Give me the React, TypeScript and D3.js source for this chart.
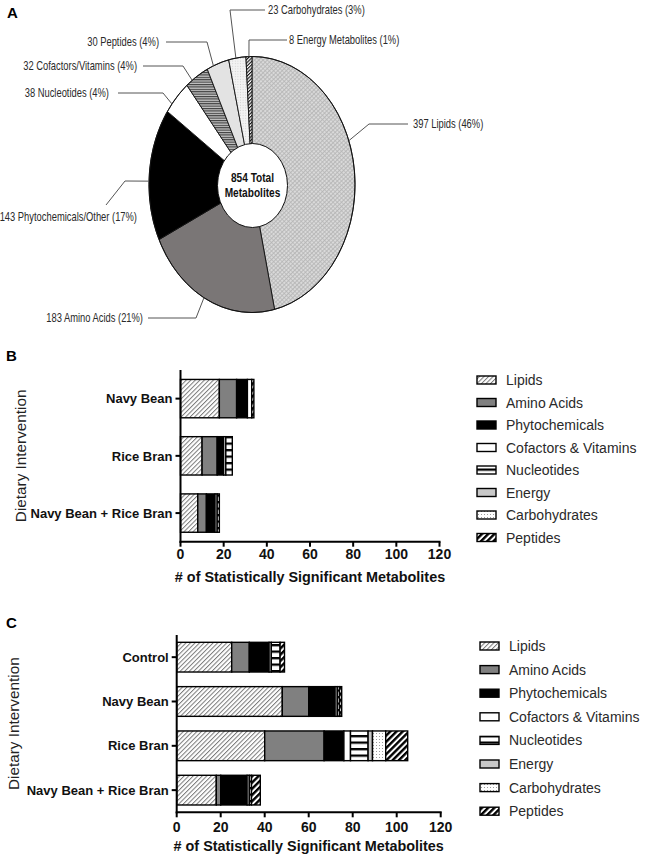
import React from "react";
import * as d3 from "d3";

// ---------- Panel A data ----------
const pieNames = ["Lipids", "Amino Acids", "Phytochemicals/Other", "Nucleotides", "Cofactors/Vitamins", "Peptides", "Carbohydrates", "Energy Metabolites"];
const pieCounts = [397, 183, 143, 38, 32, 30, 23, 8];
const piePercents = [46, 21, 17, 4, 4, 4, 3, 1];
const pieTotalLines = ["854 Total", "Metabolites"];

// ---------- Panel B / C data ----------
const classKeys = ["Lipids", "Amino Acids", "Phytochemicals", "Cofactors & Vitamins", "Nucleotides", "Energy", "Carbohydrates", "Peptides"];

const groupsB = ["Navy Bean", "Rice Bran", "Navy Bean + Rice Bran"];
const lipidsB = [18, 10, 8];
const aminoB = [8, 7, 4];
const phytoB = [5, 3, 4];
const cofactorsB = [2, 1, 1];
const nucleotidesB = [0, 3, 1];
const energyB = [0, 0, 0];
const carbsB = [0, 0, 0];
const peptidesB = [1, 0, 0];

const groupsC = ["Control", "Navy Bean", "Rice Bran", "Navy Bean + Rice Bran"];
const lipidsC = [25, 48, 40, 18];
const aminoC = [8, 12, 27, 2];
const phytoC = [9, 12, 9, 12];
const cofactorsC = [1, 1, 3, 1];
const nucleotidesC = [4, 1, 8, 1];
const energyC = [0, 0, 2, 0];
const carbsC = [0, 0, 6, 0];
const peptidesC = [2, 1, 10, 4];

const xTicks = [0, 20, 40, 60, 80, 100, 120];
const xTitle = "# of Statistically Significant Metabolites";
const yTitle = "Dietary Intervention";

// ---------- styles ----------
const classFills = ["url(#bLip)", "#808080", "#000", "#fff", "url(#bNuc)", "#c8c8c8", "url(#bCarb)", "url(#bPep)"];
const pieFills = ["url(#pLip)", "#7a7676", "#000", "#fff", "url(#pCof)", "#e3e3e3", "url(#pCarb)", "url(#pEn)"];

const SANS = "'Liberation Sans', Arial, Helvetica, sans-serif";
const NARROW_X = 0.75; // horizontal condensing for the pie's narrow typeface

// label layout for the pie (angle in degrees of the anchor on the rim, elbow, text position)
const pieLabelLayout = [
  { deg: 70, elbow: [369, 124], start: [408, 124], tx: 413, ty: 124, anchor: "start" },
  { deg: 207.8, elbow: [196, 318], start: [148, 318], tx: 143, ty: 318, anchor: "end" },
  { deg: 271.5, elbow: [125, 181], start: [106, 205], tx: 137, ty: 217, anchor: "end" },
  { deg: 309, elbow: [163, 93], start: [118, 93], tx: 109, ty: 93, anchor: "end" },
  { deg: 324.5, elbow: [183, 66], start: [143, 66], tx: 137, ty: 66, anchor: "end" },
  { deg: 338, elbow: [207, 42], start: [166, 42], tx: 159, ty: 42, anchor: "end" },
  { deg: 351, elbow: [230, 10], start: [265, 10], tx: 268, ty: 10, anchor: "start" },
  { deg: 358.3, elbow: [249, 40], start: [287, 40], tx: 289, ty: 40, anchor: "start" },
];

function Patterns() {
  return (
    <defs>
      <pattern id="bLip" width="3.2" height="3.2" patternUnits="userSpaceOnUse" patternTransform="rotate(45)">
        <rect width="3.2" height="3.2" fill="#fff" />
        <line x1="0.5" y1="0" x2="0.5" y2="3.2" stroke="#7a7a7a" strokeWidth="1" />
      </pattern>
      <pattern id="bNuc" width="6" height="6.5" patternUnits="userSpaceOnUse" y="0.5">
        <rect width="6" height="6.5" fill="#fff" />
        <rect y="0" width="6" height="2.3" fill="#000" />
      </pattern>
      <pattern id="bCarb" width="3" height="3" patternUnits="userSpaceOnUse">
        <rect width="3" height="3" fill="#fff" />
        <circle cx="1.5" cy="1.5" r="0.55" fill="#8a8a8a" />
      </pattern>
      <pattern id="bPep" width="4.4" height="4.4" patternUnits="userSpaceOnUse" patternTransform="rotate(45)">
        <rect width="4.4" height="4.4" fill="#fff" />
        <rect x="0" y="0" width="2.4" height="4.4" fill="#000" />
      </pattern>
      <pattern id="pLip" width="3" height="3" patternUnits="userSpaceOnUse" patternTransform="rotate(45)">
        <rect width="3" height="3" fill="#dadada" />
        <line x1="0.5" y1="0" x2="0.5" y2="3" stroke="#aaa" strokeWidth="0.7" />
        <line x1="0" y1="0.5" x2="3" y2="0.5" stroke="#b4b4b4" strokeWidth="0.7" />
      </pattern>
      <pattern id="pCof" width="3" height="2.4" patternUnits="userSpaceOnUse">
        <rect width="3" height="2.4" fill="#c4c4c4" />
        <rect width="3" height="1.1" fill="#3c3c3c" />
      </pattern>
      <pattern id="pCarb" width="2.6" height="2.6" patternUnits="userSpaceOnUse">
        <rect width="2.6" height="2.6" fill="#f4f4f4" />
        <rect x="0.8" y="0.8" width="1" height="1" fill="#cfcfcf" />
      </pattern>
      <pattern id="pEn" width="2.4" height="2.4" patternUnits="userSpaceOnUse" patternTransform="rotate(45)">
        <rect width="2.4" height="2.4" fill="#fff" />
        <rect width="1.1" height="2.4" fill="#111" />
      </pattern>
    </defs>
  );
}

function NarrowText(props: { x: number; y: number; anchor: string; size: number; bold?: boolean; fill: string; children: React.ReactNode }) {
  return (
    <g transform={`translate(${props.x},${props.y}) scale(${NARROW_X},1)`}>
      <text x={0} y={0} dy="0.35em" textAnchor={props.anchor as any} fontFamily={SANS} fontSize={props.size}
        fontWeight={props.bold ? "bold" : "normal"} fill={props.fill}>
        {props.children}
      </text>
    </g>
  );
}

function PiePanel() {
  const cx = 252, cy = 184.5, rx = 103, ry = 128;
  const irx = 35, iry = 42;
  const pt = (a: number, sx: number, sy: number): [number, number] => [cx + sx * Math.sin(a), cy - sy * Math.cos(a)];
  const arcs = d3.pie<number>().sort(null).value((d) => d)(pieCounts);
  const line = d3.line();
  const slicePath = (a0: number, a1: number) => {
    const n = Math.max(2, Math.ceil(((a1 - a0) * 180) / Math.PI / 0.5));
    const pts: [number, number][] = [[cx, cy]];
    d3.range(n + 1).forEach((i) => pts.push(pt(a0 + ((a1 - a0) * i) / n, rx, ry)));
    return line(pts) + "Z";
  };
  return (
    <g>
      {arcs.map((a, i) => (
        <path key={i} d={slicePath(a.startAngle, a.endAngle)} fill={pieFills[i]} stroke="#111" strokeWidth={0.9} strokeLinejoin="round" />
      ))}
      <ellipse cx={cx} cy={cy} rx={rx} ry={ry} fill="none" stroke="#111" strokeWidth={1} />
      <ellipse cx={cx + 0.5} cy={cy + 1} rx={irx} ry={iry} fill="#fff" stroke="#111" strokeWidth={1} />
      {pieTotalLines.map((t, i) => (
        <NarrowText key={t} x={cx + 0.5} y={cy - 7 + i * 15} anchor="middle" size={13.5} bold fill="#111">{t}</NarrowText>
      ))}
      {pieLabelLayout.map((L, i) => {
        const anc = pt((L.deg * Math.PI) / 180, rx, ry);
        const pts: [number, number][] = [L.start as [number, number], L.elbow as [number, number], anc];
        return (
          <g key={i}>
            <path d={line(pts) || ""} fill="none" stroke="#555" strokeWidth={1} />
            <NarrowText x={L.tx} y={L.ty} anchor={L.anchor} size={12.5} fill="#2a2a2a">
              {`${pieCounts[i]} ${pieNames[i]} (${piePercents[i]}%)`}
            </NarrowText>
          </g>
        );
      })}
      <text x={7} y={18} fontFamily={SANS} fontWeight="bold" fontSize={15}>A</text>
    </g>
  );
}

type BarProps = {
  letter: string;
  letterY: number;
  groups: string[];
  series: number[][];
  x0: number; x1: number; yTop: number; yBottom: number;
  tickBase: number; titleBase: number; yTitleX: number;
  legendX: number; legendY0: number; legendStep: number;
};

function BarPanel(p: BarProps) {
  const x = d3.scaleLinear().domain([0, 120]).range([p.x0, p.x1]);
  const y = d3.scaleBand<string>().domain(p.groups).range([p.yTop, p.yBottom]).paddingInner(0.33).paddingOuter(0.165);
  const rows = p.groups.map((g, gi) => {
    const r: any = { group: g };
    classKeys.forEach((k, ki) => (r[k] = p.series[ki][gi]));
    return r;
  });
  const stacked = d3.stack<any>().keys(classKeys)(rows);
  const yMid = (p.yTop + p.yBottom) / 2;
  return (
    <g fontFamily={SANS}>
      <text x={6} y={p.letterY} fontWeight="bold" fontSize={15}>{p.letter}</text>
      {stacked.map((layer, li) => (
        <g key={layer.key}>
          {layer.map((d, di) =>
            d[1] - d[0] > 0 ? (
              <rect key={di} x={x(d[0])} y={y(p.groups[di])!} width={x(d[1]) - x(d[0])} height={y.bandwidth()}
                fill={classFills[li]} stroke="#000" strokeWidth={1.4} />
            ) : null
          )}
        </g>
      ))}
      {/* axes */}
      <line x1={p.x0} x2={p.x0} y1={p.yTop} y2={p.yBottom + 1} stroke="#000" strokeWidth={2} />
      <line x1={p.x0 - 1} x2={p.x1 + 1} y1={p.yBottom} y2={p.yBottom} stroke="#000" strokeWidth={2} />
      {xTicks.map((t) => (
        <g key={t}>
          <line x1={x(t)} x2={x(t)} y1={p.yBottom} y2={p.yBottom + 5} stroke="#000" strokeWidth={2} />
          <text x={x(t)} y={p.tickBase} textAnchor="middle" fontWeight="bold" fontSize={14} fill="#111">{t}</text>
        </g>
      ))}
      {p.groups.map((g) => (
        <g key={g}>
          <line x1={p.x0 - 5} x2={p.x0} y1={y(g)! + y.bandwidth() / 2} y2={y(g)! + y.bandwidth() / 2} stroke="#000" strokeWidth={2} />
          <text x={p.x0 - 8} y={y(g)! + y.bandwidth() / 2} dy="0.36em" textAnchor="end" fontWeight="bold" fontSize={13} fill="#111">{g}</text>
        </g>
      ))}
      <text x={(p.x0 + p.x1) / 2} y={p.titleBase} textAnchor="middle" fontWeight="bold" fontSize={14.4} fill="#111">{xTitle}</text>
      <text transform={`translate(${p.yTitleX},${yMid}) rotate(-90)`} textAnchor="middle" dy="0.35em" fontSize={15.3} fill="#222">{yTitle}</text>
      {/* legend */}
      {classKeys.map((k, i) => {
        const cy = p.legendY0 + i * p.legendStep;
        return (
          <g key={k}>
            <rect x={p.legendX} y={cy - 4} width={19} height={8} fill={classFills[i]} stroke="#000" strokeWidth={1.4} />
            <text x={p.legendX + 29} y={cy} dy="0.36em" fontSize={14} fill="#2a2a2a">{k}</text>
          </g>
        );
      })}
    </g>
  );
}

export default function App() {
  const seriesB = [lipidsB, aminoB, phytoB, cofactorsB, nucleotidesB, energyB, carbsB, peptidesB];
  const seriesC = [lipidsC, aminoC, phytoC, cofactorsC, nucleotidesC, energyC, carbsC, peptidesC];
  return (
    <svg width={649} height={861} viewBox="0 0 649 861" style={{ position: "absolute", left: 0, top: 0, background: "#fff" }}>
      <Patterns />
      <rect width={649} height={861} fill="#fff" />
      <PiePanel />
      <BarPanel letter="B" letterY={361} groups={groupsB} series={seriesB}
        x0={180.5} x1={439.5} yTop={370} yBottom={541.7} tickBase={559} titleBase={582} yTitleX={21}
        legendX={477} legendY0={380} legendStep={22.5} />
      <BarPanel letter="C" letterY={628} groups={groupsC} series={seriesC}
        x0={176.7} x1={440.7} yTop={635} yBottom={812.3} tickBase={831.5} titleBase={850.5} yTitleX={14}
        legendX={480} legendY0={646} legendStep={23.6} />
    </svg>
  );
}
